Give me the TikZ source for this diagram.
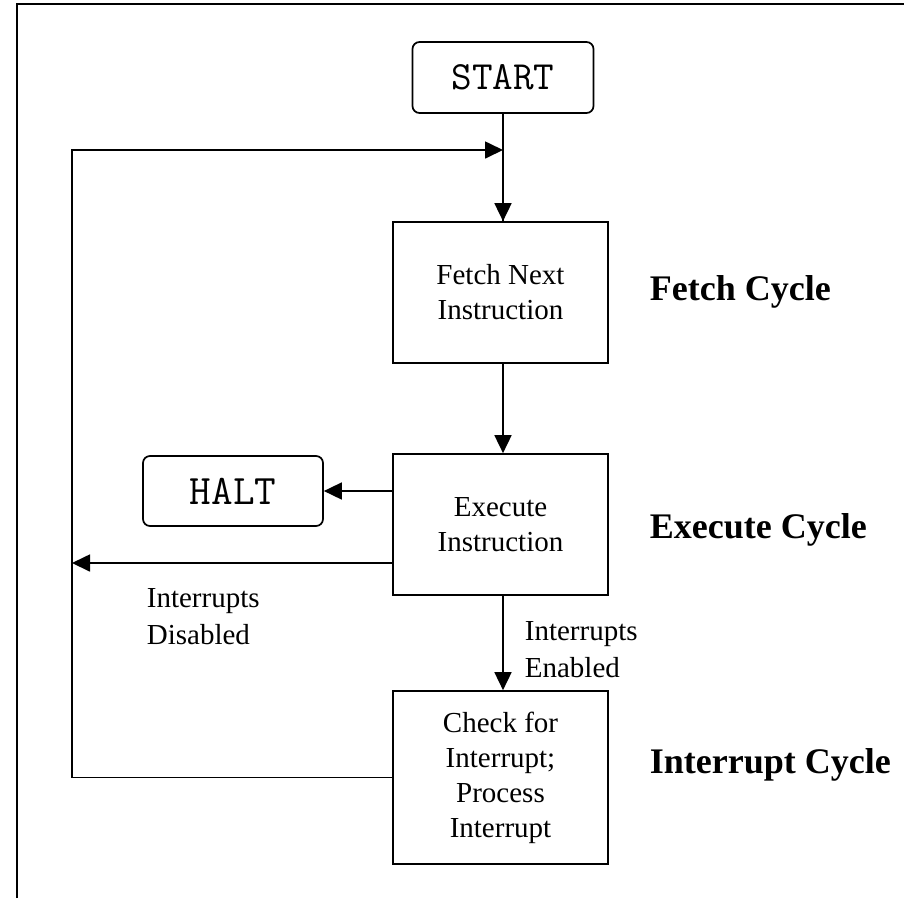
\documentclass[tikz,border=0pt]{standalone}
\usepackage{fontspec}
\setmainfont{Liberation Serif}
\usetikzlibrary{arrows.meta}
\begin{document}
\begin{tikzpicture}[x=1pt,y=-1pt,
  line width=1.7pt,
  flow/.style={-{Triangle[length=18pt,width=17pt]}},
  terminal/.style={draw,rounded corners=7pt,font=\ttfamily\fontsize{40}{44}\selectfont,inner sep=0pt},
  stepbox/.style={draw,minimum width=215pt,inner sep=0pt,align=center,
    font=\fontsize{29}{35}\selectfont},
  cyclelabel/.style={anchor=west,font=\bfseries\fontsize{36}{40}\selectfont,inner sep=0pt},
  edgelabel/.style={anchor=west,align=left,font=\fontsize{29}{37}\selectfont,inner sep=0pt}]
  \useasboundingbox (0,0) rectangle (904,898);
  % outer frame
  \draw[line width=2.5pt] (17,898) -- (17,4) -- (904,4);

  % flow nodes
  \node[terminal,minimum width=181pt,minimum height=71pt] (start) at (503,77.5) {START};
  \node[stepbox,minimum height=141pt] (fetch) at (500.5,292.5) {Fetch Next\\Instruction};
  \node[stepbox,minimum height=141pt] (exec) at (500.5,524.5) {Execute\\Instruction};
  \node[stepbox,minimum height=173pt] (intr) at (500.5,777.5) {Check for\\Interrupt;\\Process\\Interrupt};
  \node[terminal,minimum width=180pt,minimum height=70pt,font=\ttfamily\fontsize{42}{46}\selectfont] (halt) at (233,491) {HALT};

  % cycle labels
  \node[cyclelabel] (lfetch) at (649,292) {Fetch Cycle};
  \node[cyclelabel] (lexec) at (649,530) {Execute Cycle};
  \node[cyclelabel] (lintr) at (649,765) {Interrupt Cycle};

  % connector labels
  \node[edgelabel] (ldis) at (146,617) {Interrupts\\Disabled};
  \node[edgelabel] (len) at (524,650) {Interrupts\\Enabled};

  % helper points of the return path
  \coordinate (join) at (503,150);
  \coordinate (corner) at (72,150);
  \coordinate (dis) at (72,563);
  \coordinate (haltout) at (393,491);
  \coordinate (disout) at (393,563);

  % connectors
  \draw (start.south) -- (start.south |- fetch.north);
  \draw[flow] (join) -- (join |- fetch.north);
  \draw[flow] (join |- fetch.south) -- (join |- exec.north);
  \draw[flow] (join |- exec.south) -- (join |- intr.north);
  \draw[flow] (haltout) -- (haltout -| halt.east);
  \draw[flow] (disout) -- (dis);
  \draw[flow] (intr.west) -| (corner) -- (join);
\end{tikzpicture}
\end{document}
